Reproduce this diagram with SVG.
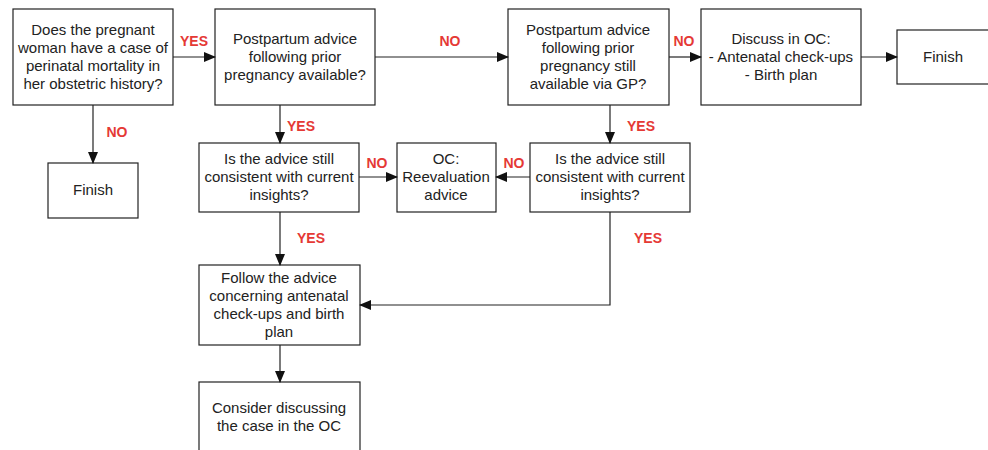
<svg xmlns="http://www.w3.org/2000/svg" width="988" height="450" viewBox="0 0 988 450">
<defs>
<marker id="arr" markerWidth="12" markerHeight="10" refX="11" refY="5" orient="auto" markerUnits="userSpaceOnUse">
<path d="M0,0 L12,5 L0,10 Z" fill="#111"/>
</marker>
<style>
.box{fill:#fff;stroke:#222;stroke-width:1.2}
.t{font-family:"Liberation Sans",Arial,sans-serif;font-size:15px;fill:#222;text-anchor:middle}
.lbl{font-family:"Liberation Sans",Arial,sans-serif;font-size:14px;font-weight:bold;fill:#e53935;text-anchor:middle}
.c{fill:none;stroke:#222;stroke-width:1.2}
</style>
</defs>
<rect width="988" height="450" fill="#fff"/>
<g id="n1"><rect class="box" x="13" y="9" width="160" height="96"/>
<text class="t" x="93" y="35">Does the pregnant</text><text class="t" x="93" y="53">woman have a case of</text><text class="t" x="93" y="71">perinatal mortality in</text><text class="t" x="93" y="89">her obstetric history?</text></g>
<g id="n2"><rect class="box" x="215" y="9" width="160" height="96"/>
<text class="t" x="295" y="44">Postpartum advice</text><text class="t" x="295" y="62">following prior</text><text class="t" x="295" y="80">pregnancy available?</text></g>
<g id="n3"><rect class="box" x="508" y="9" width="161" height="96"/>
<text class="t" x="588" y="35">Postpartum advice</text><text class="t" x="588" y="53">following prior</text><text class="t" x="588" y="71">pregnancy still</text><text class="t" x="588" y="89">available via GP?</text></g>
<g id="n4"><rect class="box" x="701" y="9" width="160" height="96"/>
<text class="t" x="781" y="44">Discuss in OC:</text><text class="t" x="781" y="62">- Antenatal check-ups</text><text class="t" x="781" y="80">- Birth plan</text></g>
<g id="n5"><rect class="box" x="897" y="30" width="93" height="54"/>
<text class="t" x="943" y="62">Finish</text></g>
<g id="n6"><rect class="box" x="48" y="163" width="90" height="55"/>
<text class="t" x="93" y="195">Finish</text></g>
<g id="n7"><rect class="box" x="199" y="143" width="160" height="69"/>
<text class="t" x="279" y="164">Is the advice still</text><text class="t" x="279" y="182">consistent with current</text><text class="t" x="279" y="200">insights?</text></g>
<g id="n8"><rect class="box" x="397" y="143" width="99" height="69"/>
<text class="t" x="446" y="164">OC:</text><text class="t" x="446" y="182">Reevaluation</text><text class="t" x="446" y="200">advice</text></g>
<g id="n9"><rect class="box" x="530" y="143" width="160" height="69"/>
<text class="t" x="610" y="164">Is the advice still</text><text class="t" x="610" y="182">consistent with current</text><text class="t" x="610" y="200">insights?</text></g>
<g id="n10"><rect class="box" x="199" y="265" width="161" height="80"/>
<text class="t" x="279" y="283">Follow the advice</text><text class="t" x="279" y="301">concerning antenatal</text><text class="t" x="279" y="319">check-ups and birth</text><text class="t" x="279" y="337">plan</text></g>
<g id="n11"><rect class="box" x="199" y="382" width="161" height="90"/>
<text class="t" x="279" y="413">Consider discussing</text><text class="t" x="279" y="431">the case in the OC</text></g>
<g id="connectors">
<line class="c" x1="173" y1="57" x2="215" y2="57" marker-end="url(#arr)"/>
<line class="c" x1="375" y1="57" x2="508" y2="57" marker-end="url(#arr)"/>
<line class="c" x1="669" y1="57" x2="701" y2="57" marker-end="url(#arr)"/>
<line class="c" x1="861" y1="57" x2="897" y2="57" marker-end="url(#arr)"/>
<line class="c" x1="93" y1="105" x2="93" y2="163" marker-end="url(#arr)"/>
<line class="c" x1="280" y1="105" x2="280" y2="143" marker-end="url(#arr)"/>
<line class="c" x1="610" y1="105" x2="610" y2="143" marker-end="url(#arr)"/>
<line class="c" x1="359" y1="177" x2="397" y2="177" marker-end="url(#arr)"/>
<line class="c" x1="530" y1="177" x2="496" y2="177" marker-end="url(#arr)"/>
<line class="c" x1="280" y1="212" x2="280" y2="265" marker-end="url(#arr)"/>
<polyline class="c" points="610,212 610,305 360,305" marker-end="url(#arr)"/>
<line class="c" x1="280" y1="345" x2="280" y2="382" marker-end="url(#arr)"/>
<text class="lbl" x="194" y="46">YES</text>
<text class="lbl" x="450" y="46">NO</text>
<text class="lbl" x="684" y="46">NO</text>
<text class="lbl" x="117" y="137">NO</text>
<text class="lbl" x="301" y="131">YES</text>
<text class="lbl" x="641" y="131">YES</text>
<text class="lbl" x="377" y="168">NO</text>
<text class="lbl" x="514" y="168">NO</text>
<text class="lbl" x="311" y="243">YES</text>
<text class="lbl" x="648" y="243">YES</text>
</g>
</svg>
